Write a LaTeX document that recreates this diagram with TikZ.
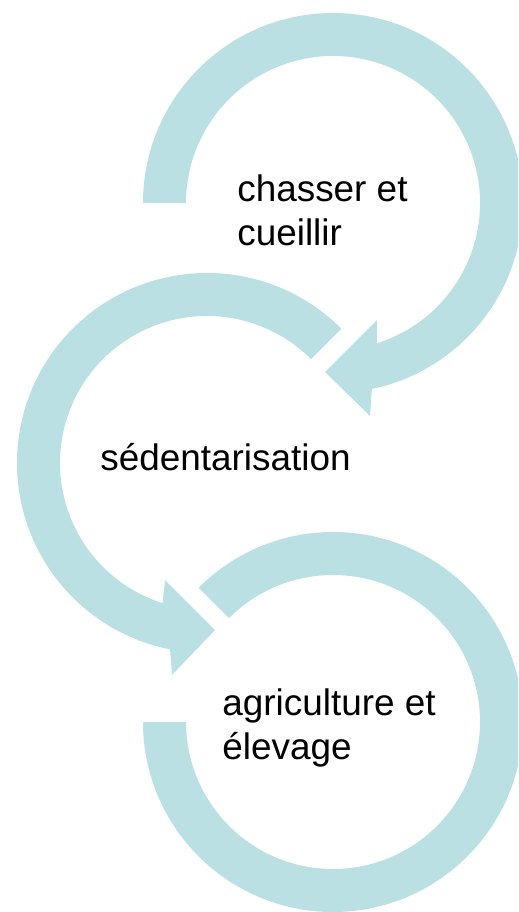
\documentclass[tikz,border=0pt]{standalone}
\usepackage{fontspec}
\setmainfont{Liberation Sans}
\definecolor{ringcol}{RGB}{187,224,227}

\begin{document}
\begin{tikzpicture}[x=0.02cm, y=0.02cm,
    ringfill/.style={fill=ringcol, draw=none},
    steptext/.style={anchor=base west, align=left, inner sep=0pt, font=\fontsize{21}{24.7}\selectfont}]
  \useasboundingbox (0,0) rectangle (518,-912);
  \clip (0,0) rectangle (518,-912);
  \coordinate (c1) at (333,-203);
  \coordinate (c2) at (207,-463);
  \coordinate (c3) at (333,-722);
  % first step, arrow into the second one
  \fill[ringfill] ([shift={(180:190)}]c1) arc[start angle=180, end angle=-78.2, radius=190]
    -- (370,-416) -- (325,-372) -- (377,-320)
    -- ([shift={(-72.6:147)}]c1) arc[start angle=-72.6, end angle=180, radius=147] -- cycle;
  % second step
  \fill[ringfill] ([shift={(45:190)}]c2) arc[start angle=45, end angle=258.8, radius=190]
    -- (172,-675) -- (215,-630) -- (165,-580)
    -- ([shift={(252.4:147)}]c2) arc[start angle=252.4, end angle=45, radius=147] -- cycle;
  % last step, no head
  \fill[ringfill] ([shift={(180:190)}]c3) arc[start angle=180, end angle=495, radius=190]
    -- ([shift={(135:147)}]c3) arc[start angle=135, end angle=-180, radius=147] -- cycle;
  % base of a two-line node is its last line
  \node[steptext] (hunt) at (237,-245) {chasser et\\cueillir};
  \node[steptext] (settle) at (100,-470) {sédentarisation};
  \node[steptext] (farm) at (222,-759) {agriculture et\\élevage};
\end{tikzpicture}
\end{document}
